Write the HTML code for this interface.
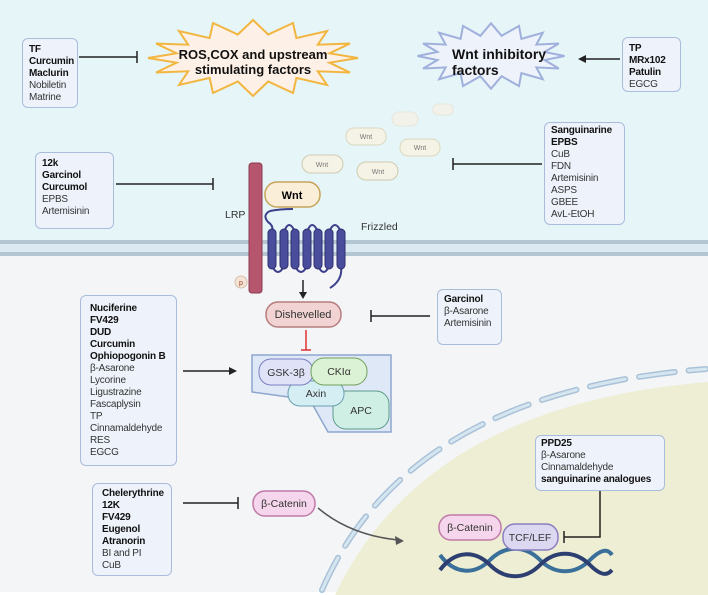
<!DOCTYPE html>
<html><head><meta charset="utf-8"><style>
body{margin:0;width:708px;height:595px;overflow:hidden;background:#fff;font-family:"Liberation Sans",sans-serif}
.box{position:absolute;background:#eef3fb;border:1.5px solid #a9bcdc;border-radius:6px;font-size:10px;line-height:12px;color:#333;padding:5px 6px;box-sizing:border-box;white-space:nowrap;letter-spacing:-0.2px}
.box b{color:#111}
</style></head><body>
<svg width="708" height="595" style="position:absolute;left:0;top:0" font-family="Liberation Sans, sans-serif">
<rect x="0" y="0" width="708" height="244" fill="#e6f5f7"/>
<rect x="0" y="244" width="708" height="348" fill="#f4f5f7"/>
<rect x="0" y="240" width="708" height="4" fill="#b3c6d2"/>
<rect x="0" y="244" width="708" height="8" fill="#dbe9f0"/>
<rect x="0" y="252" width="708" height="4" fill="#b3c6d2"/>
<path d="M335,595 Q425,405 708,382 L708,595 Z" fill="#eeeed4"/>
<path d="M322,590 Q408,392 706,369" fill="none" stroke="#a9c2d8" stroke-width="6" stroke-linecap="round" stroke-dasharray="36,14"/>
<path d="M322,590 Q408,392 706,369" fill="none" stroke="#d6e6f0" stroke-width="3" stroke-linecap="round" stroke-dasharray="36,14"/>
<polygon points="358,58 329.5,62.7 350,72.5 317.8,71.3 327,85 296.4,77.9 293,93 268.2,81.5 253,96 237.8,81.5 213,93 209.6,77.9 179,85 188.2,71.3 156,72.5 176.5,62.7 148,58 176.5,53.3 156,43.5 188.2,44.7 179,31 209.6,38.1 213,23 237.8,34.5 253,20 268.2,34.5 293,23 296.4,38.1 327,31 317.8,44.7 350,43.5 329.5,53.3" fill="#fdf0e6" stroke="#f2b640" stroke-width="2"/>
<g transform="translate(491,56) scale(0.7,0.86) translate(-253,-58)"><polygon points="358,58 329.5,62.7 350,72.5 317.8,71.3 327,85 296.4,77.9 293,93 268.2,81.5 253,96 237.8,81.5 213,93 209.6,77.9 179,85 188.2,71.3 156,72.5 176.5,62.7 148,58 176.5,53.3 156,43.5 188.2,44.7 179,31 209.6,38.1 213,23 237.8,34.5 253,20 268.2,34.5 293,23 296.4,38.1 327,31 317.8,44.7 350,43.5 329.5,53.3" fill="#eef2fa" stroke="#9fb0dc" stroke-width="2" vector-effect="non-scaling-stroke"/></g>
<text x="253" y="59" font-size="13" font-weight="bold" text-anchor="middle" fill="#111">ROS,COX and upstream</text>
<text x="253" y="74" font-size="13" font-weight="bold" text-anchor="middle" fill="#111">stimulating factors</text>
<text x="452" y="59" font-size="14" font-weight="bold" fill="#111">Wnt inhibitory</text>
<text x="452" y="75" font-size="14" font-weight="bold" fill="#111">factors</text>
<g stroke="#222" stroke-width="1.5" fill="none">
<path d="M79,57 H137 M137,51 V63"/>
<path d="M620,59 H584"/>
<path d="M116,184 H213 M213,178 V190"/>
<path d="M542,164 H453 M453,158 V170"/>
<path d="M430,316 H371 M371,310 V322"/>
<path d="M183,371 H230"/>
<path d="M183,503 H238 M238,497 V509"/>
<path d="M600,490 V537 H564 M564,531 V543"/>
<path d="M303,280 V293"/>
</g>
<polygon points="578,59 586,55 586,63" fill="#222"/>
<polygon points="237,371 229,367 229,375" fill="#222"/>
<polygon points="303,299 299,292 307,292" fill="#222"/>
<path d="M306,330 V350 M301,350 H311" stroke="#d33" stroke-width="1.5"/>
<path d="M318,508 Q350,535 398,540" fill="none" stroke="#555" stroke-width="1.5"/>
<polygon points="404,541 395,536 396,545" fill="#555"/>
<g font-size="7" fill="#777" text-anchor="middle">
<rect x="392" y="112" width="26" height="14" rx="7" fill="#f2f2ea" stroke="#e6e6dc"/>
<rect x="433" y="104" width="20" height="11" rx="5" fill="#f2f2ea" stroke="#e6e6dc"/>
<rect x="346" y="128" width="40" height="17" rx="8" fill="#f5f3e6" stroke="#dcd8c0"/><text x="366" y="139">Wnt</text>
<rect x="400" y="139" width="40" height="17" rx="8" fill="#f5f3e6" stroke="#dcd8c0"/><text x="420" y="150">Wnt</text>
<rect x="302" y="155" width="41" height="18" rx="9" fill="#f5f3e6" stroke="#cfcab0"/><text x="322" y="167">Wnt</text>
<rect x="357" y="162" width="41" height="18" rx="9" fill="#f5f3e6" stroke="#cfcab0"/><text x="378" y="174">Wnt</text>
</g>
<rect x="249" y="163" width="13" height="130" rx="3" fill="#b5566e" stroke="#8a3a50"/>
<circle cx="241" cy="282" r="6" fill="#f3e3d6" stroke="#d9c0ac"/><text x="241" y="285" font-size="7" fill="#a0402a" text-anchor="middle">p</text>
<text x="225" y="218" font-size="10.5" fill="#333">LRP</text>
<rect x="265" y="182" width="55" height="25" rx="12" fill="#fbeed8" stroke="#c7a35a" stroke-width="1.5"/>
<text x="292" y="199" font-size="11" font-weight="bold" text-anchor="middle">Wnt</text>
<text x="361" y="230" font-size="10.5" fill="#333">Frizzled</text>
<path d="M270,211 Q262,215 268,222 Q274,226 272,232 L272,266 Q278,278 284,266 L284,232 Q289,218 295,232 L295,266 Q301,278 307,266 L307,232 Q312,218 318,232 L318,266 Q324,278 329,266 L329,232 Q335,218 341,232 L341,266 Q343,280 330,288 M270,211 Q280,209 293,209" fill="none" stroke="#3d3e8c" stroke-width="2"/>
<g fill="#4a4c9c" stroke="#2e2f70" stroke-width="1">
<rect x="268" y="229" width="8" height="40" rx="4"/><rect x="280" y="229" width="8" height="40" rx="4"/><rect x="291" y="229" width="8" height="40" rx="4"/><rect x="303" y="229" width="8" height="40" rx="4"/><rect x="314" y="229" width="8" height="40" rx="4"/><rect x="325" y="229" width="8" height="40" rx="4"/><rect x="337" y="229" width="8" height="40" rx="4"/>
</g>
<rect x="266" y="302" width="75" height="25" rx="12" fill="#f2d3d3" stroke="#b57d7d" stroke-width="1.5"/>
<text x="303" y="318" font-size="11" text-anchor="middle" fill="#333">Dishevelled</text>
<polygon points="252,355 391,355 391,432 328,432 310,400 252,392" fill="#dfe8f6" stroke="#8ea6cf" stroke-width="1.5"/>
<rect x="333" y="391" width="56" height="38" rx="13" fill="#cfeee4" stroke="#5a9a8a"/>
<text x="361" y="414" font-size="10.5" text-anchor="middle" fill="#333">APC</text>
<rect x="288" y="381" width="56" height="25" rx="12" fill="#d4eef4" stroke="#6aa0b0"/>
<text x="316" y="397" font-size="10.5" text-anchor="middle" fill="#333">Axin</text>
<rect x="259" y="359" width="54" height="26" rx="12" fill="#e0e2f8" stroke="#7a80c0"/>
<text x="286" y="376" font-size="10.5" text-anchor="middle" fill="#333">GSK-3β</text>
<rect x="311" y="358" width="56" height="27" rx="13" fill="#dcf2d4" stroke="#6fa05a"/>
<text x="339" y="375" font-size="10.5" text-anchor="middle" fill="#333">CKIα</text>
<rect x="253" y="491" width="62" height="25" rx="12" fill="#f6d6ec" stroke="#c07aa8" stroke-width="1.5"/>
<text x="284" y="507" font-size="10.5" text-anchor="middle" fill="#333">β-Catenin</text>
<path d="M440,555 C455,575 475,575 490,560 S525,545 540,560 S575,575 590,560 S610,552 612,555" fill="none" stroke="#3a6f9a" stroke-width="4"/>
<path d="M440,570 C455,550 475,550 490,565 S525,580 540,565 S575,550 590,565 S610,572 612,570" fill="none" stroke="#2d3f70" stroke-width="4"/>
<rect x="439" y="515" width="62" height="25" rx="12" fill="#f6d6ec" stroke="#c07aa8" stroke-width="1.5"/>
<text x="470" y="531" font-size="10.5" text-anchor="middle" fill="#333">β-Catenin</text>
<rect x="503" y="524" width="55" height="26" rx="12" fill="#ddd8f2" stroke="#8a7ec0" stroke-width="1.5"/>
<text x="530" y="541" font-size="10.5" text-anchor="middle" fill="#333">TCF/LEF</text>
</svg>
<div class="box" style="left:22px;top:38px;width:56px;height:70px"><b>TF<br>Curcumin<br>Maclurin</b><br>Nobiletin<br>Matrine</div>
<div class="box" style="left:622px;top:37px;width:59px;height:55px"><b>TP<br>MRx102<br>Patulin</b><br>EGCG</div>
<div class="box" style="left:35px;top:152px;width:79px;height:77px"><b>12k<br>Garcinol<br>Curcumol</b><br>EPBS<br>Artemisinin</div>
<div class="box" style="left:544px;top:122px;width:81px;height:103px;padding-top:2px"><b>Sanguinarine<br>EPBS</b><br>CuB<br>FDN<br>Artemisinin<br>ASPS<br>GBEE<br>AvL-EtOH</div>
<div class="box" style="left:437px;top:289px;width:65px;height:56px;padding-top:4px"><b>Garcinol</b><br>β-Asarone<br>Artemisinin</div>
<div class="box" style="left:80px;top:295px;width:97px;height:171px;padding:7px 9px"><b>Nuciferine<br>FV429<br>DUD<br>Curcumin<br>Ophiopogonin B</b><br>β-Asarone<br>Lycorine<br>Ligustrazine<br>Fascaplysin<br>TP<br>Cinnamaldehyde<br>RES<br>EGCG</div>
<div class="box" style="left:92px;top:483px;width:80px;height:93px;padding:4px 9px"><b>Chelerythrine<br>12K<br>FV429<br>Eugenol<br>Atranorin</b><br>BI and PI<br>CuB</div>
<div class="box" style="left:535px;top:435px;width:130px;height:56px;padding:2px 5px"><b>PPD25</b><br>β-Asarone<br>Cinnamaldehyde<br><b>sanguinarine analogues</b></div>
</body></html>
